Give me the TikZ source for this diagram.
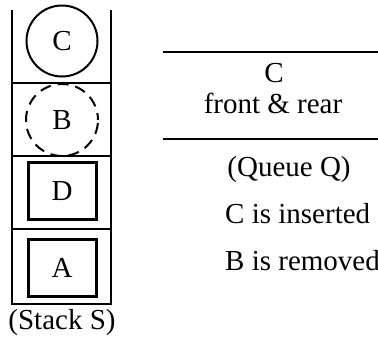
\documentclass[tikz,border=0pt]{standalone}
\usepackage{fontspec}
\setmainfont{Liberation Serif}
\begin{document}
\begin{tikzpicture}[x=1pt,y=-1pt,
  every node/.style={font=\fontsize{29}{33}\selectfont, inner sep=0pt},
  wall/.style={line width=2pt},
  ball/.style={circle, draw, line width=2pt, minimum size=71pt},
  dashball/.style={ball, minimum size=72pt, dash pattern=on 11pt off 7pt, dash phase=4pt},
  crate/.style={rectangle, draw, line width=3pt, minimum width=68pt, minimum height=57pt},
  rule/.style={line width=2pt}]
\useasboundingbox (0,0) rectangle (378,341);
% stack walls and separators
\draw[wall] (12,10) -- (12,304) -- (111,304) -- (111,10);
\draw[wall] (12,83) -- (111,83);
\draw[wall] (12,156) -- (111,156);
\draw[wall] (12,229) -- (111,229);
% stack contents
\node[ball] (sC) at (62,41) {C};
\node[dashball] (sB) at (62,120) {B};
\node[crate] (sD) at (62,191) {D};
\node[crate] (sA) at (62,268) {A};
\node (stacklbl) at (62,323) {(Stack S)};
% queue
\draw[rule] (163,52) -- (378,52);
\draw[rule] (163,139) -- (378,139);
\node (qC) at (274,73) {C};
\node (qfr) at (273,103) {front \& rear};
\node (qlbl) at (289,170) {(Queue Q)};
\node[anchor=west] (ins) at (225,214) {C is inserted};
\node[anchor=west] (rem) at (225,261) {B is removed};
\end{tikzpicture}
\end{document}
